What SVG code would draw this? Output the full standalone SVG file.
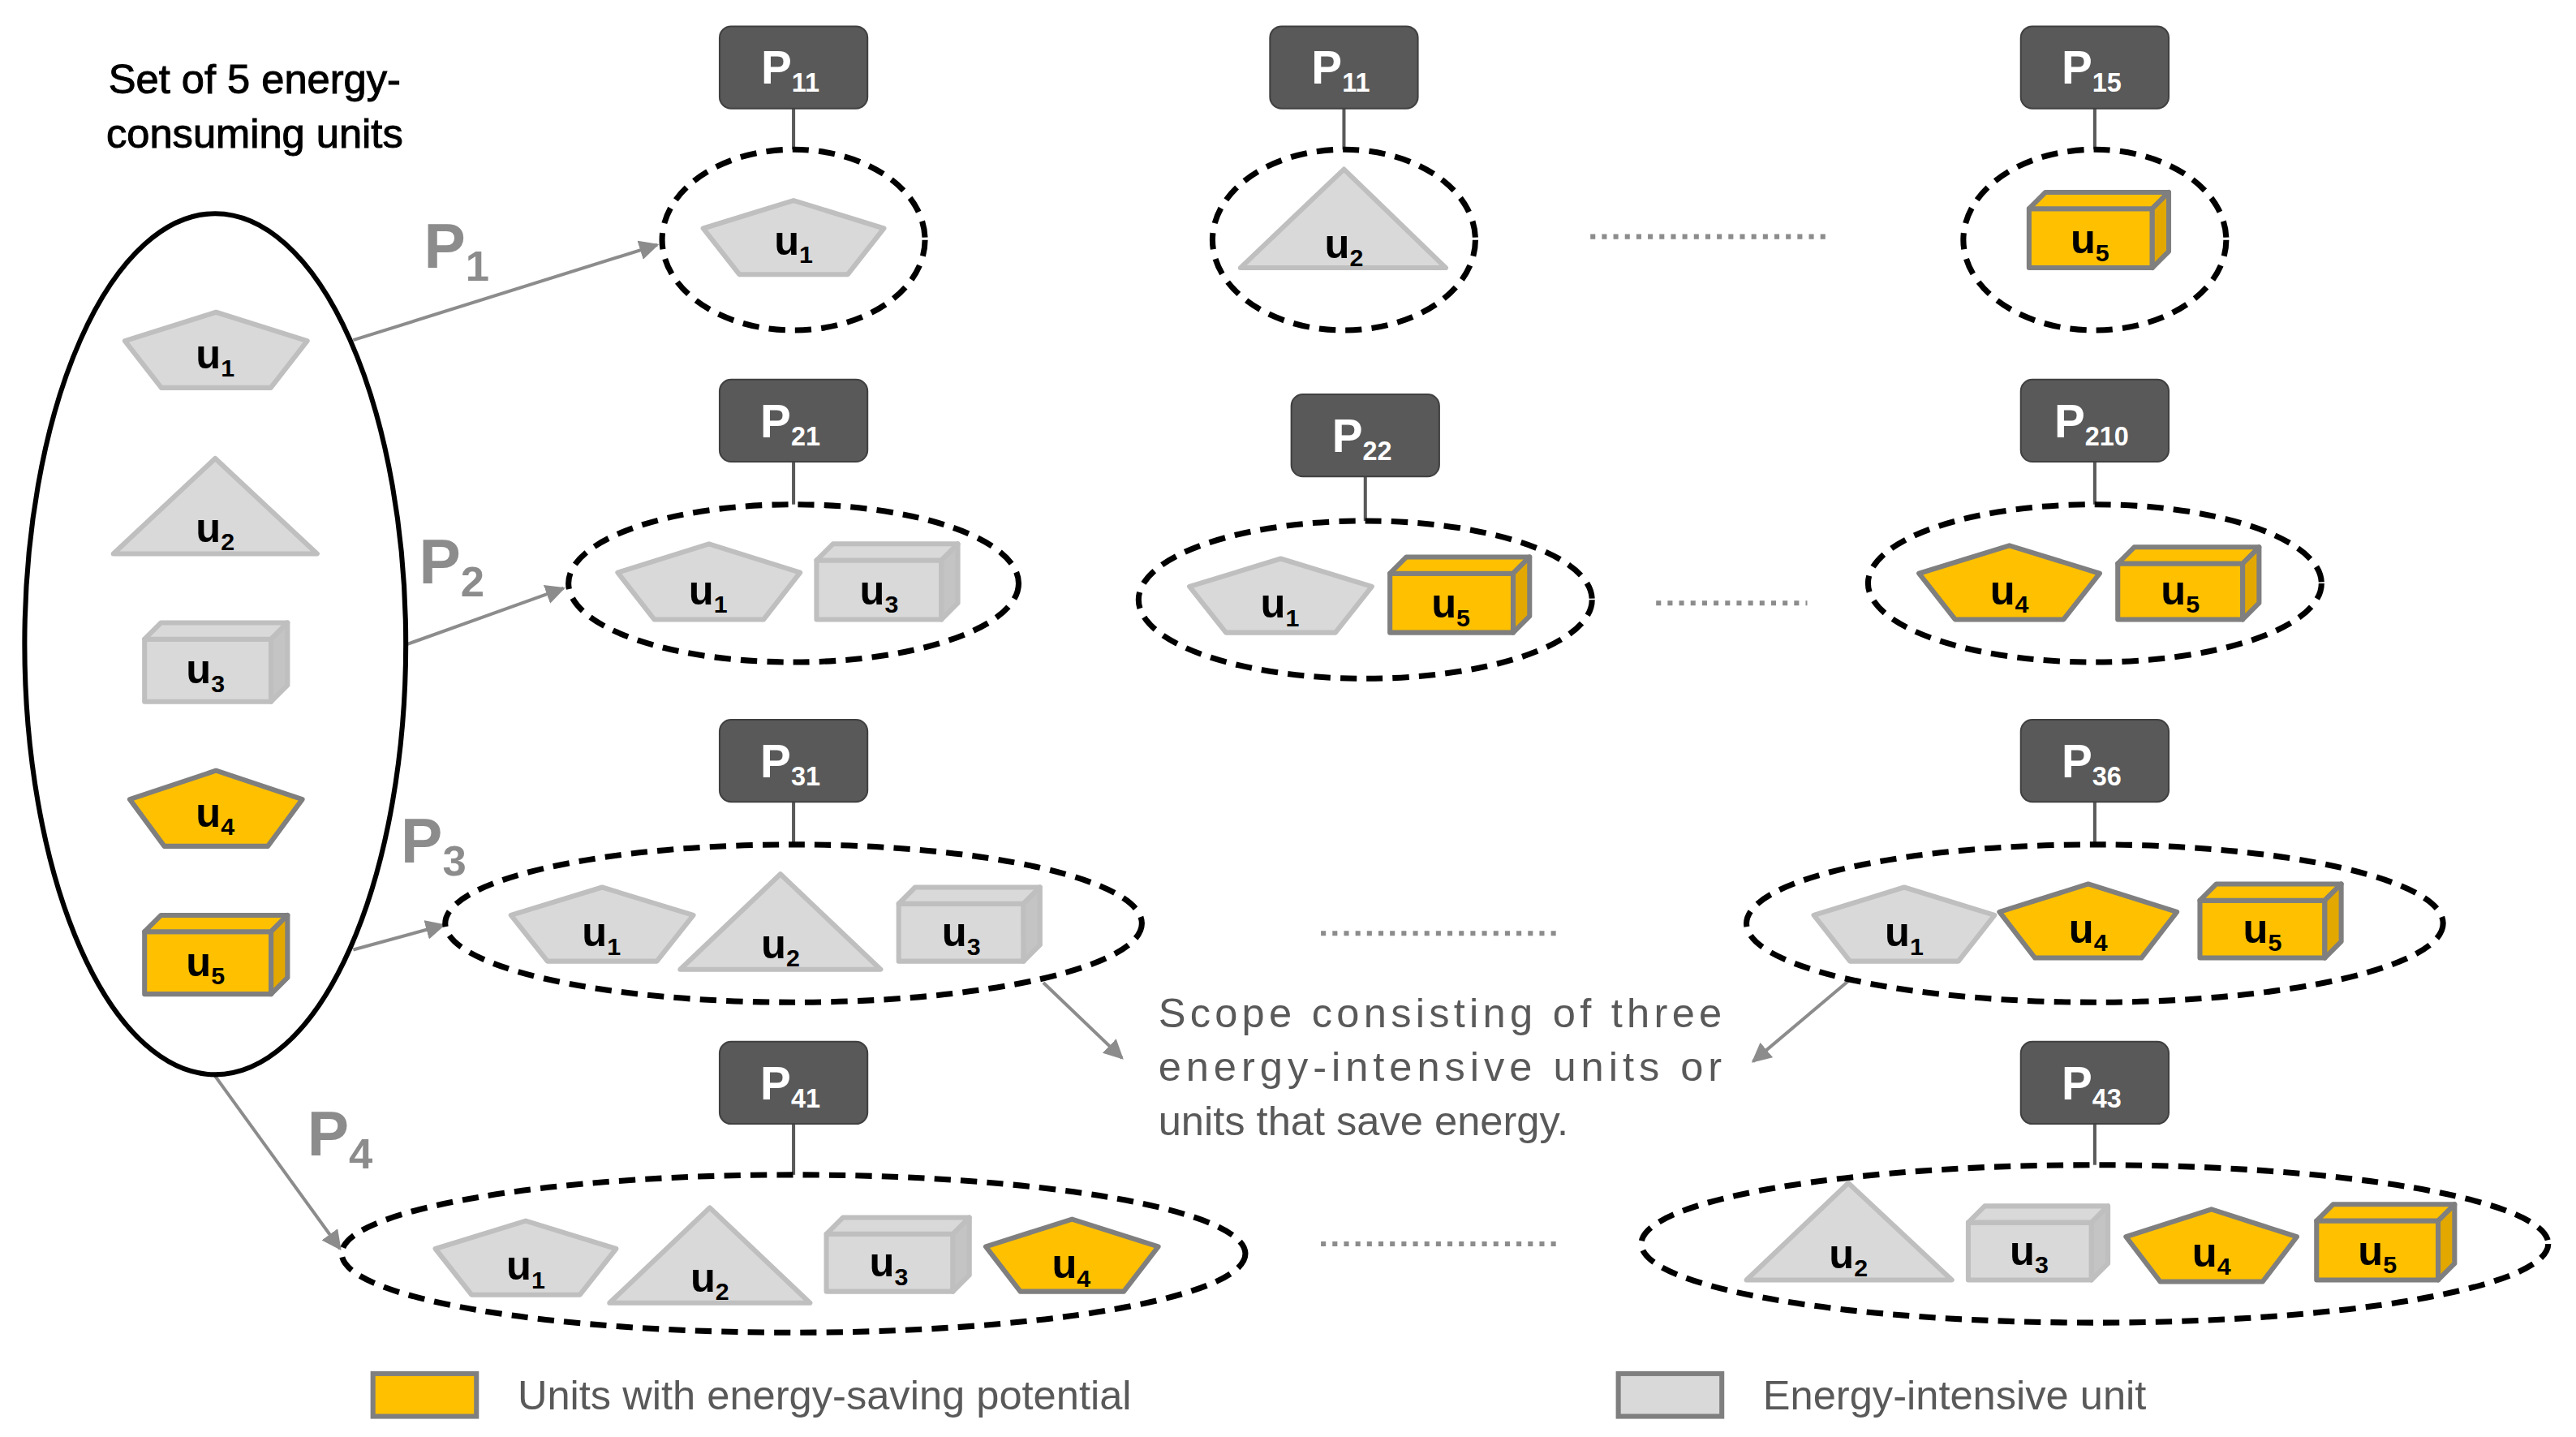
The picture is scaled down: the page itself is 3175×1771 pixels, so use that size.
<svg xmlns="http://www.w3.org/2000/svg" width="3175" height="1771" viewBox="0 0 3175 1771">
<style>
.g{fill:#d9d9d9;stroke:#bfbfbf;stroke-width:3;stroke-linejoin:round}
.gs{fill:#c4c4c4;stroke:#bfbfbf;stroke-width:3;stroke-linejoin:round}
.y{fill:#ffc000;stroke:#7f7f7f;stroke-width:3;stroke-linejoin:round}
.ys{fill:#e3a800;stroke:#7f7f7f;stroke-width:3;stroke-linejoin:round}
.u{font-family:"Liberation Sans Narrow","Liberation Sans",Arial,sans-serif;font-weight:bold;font-size:25px;fill:#000;text-anchor:middle}
.s{font-size:15px}
.pb{fill:#595959;stroke:#404040;stroke-width:1}
.pt{font-family:"Liberation Sans Narrow","Liberation Sans",Arial,sans-serif;font-weight:bold;font-size:28px;fill:#fff;text-anchor:middle}
.ps{font-size:16px}
.el{fill:none;stroke:#000;stroke-width:3.5;stroke-dasharray:10 6}
.st{stroke:#595959;stroke-width:2}
.ar{stroke:#8c8c8c;stroke-width:2;fill:none;marker-end:url(#ah)}
.dot{stroke:#8c8c8c;stroke-width:3;stroke-dasharray:3 4}
.pl{font-family:"Liberation Sans",Arial,sans-serif;font-weight:bold;font-size:38px;fill:#8c8c8c}
.pls{font-size:26px}
.tx{font-family:"Liberation Sans",Arial,sans-serif;font-size:24px;fill:#595959}
.ti{font-family:"Liberation Sans",Arial,sans-serif;font-size:25px;fill:#000;text-anchor:middle;stroke:#000;stroke-width:0.5}
</style>
<defs>
<marker id="ah" viewBox="0 0 10 10" refX="9" refY="5" markerWidth="6" markerHeight="6" orient="auto"><path d="M0,0 L10,5 L0,10 z" fill="#8c8c8c"/></marker>
</defs>
<g transform="scale(2.025)">
<g id="title"><text x="155" y="57" class="ti">Set of 5 energy-</text><text x="155" y="90" class="ti">consuming units</text></g>

<g id="connectors">
<line class="ar" x1="215" y1="207" x2="400" y2="149"/>
<line class="ar" x1="248" y1="392" x2="343" y2="358"/>
<line class="ar" x1="215" y1="578" x2="270" y2="563"/>
<line class="ar" x1="131" y1="655" x2="207" y2="760"/>
<line class="ar" x1="635" y1="598" x2="683" y2="644"/>
<line class="ar" x1="1125" y1="597" x2="1067" y2="646"/>
<line class="st" x1="483" y1="66" x2="483" y2="91"/>
<line class="st" x1="818" y1="66" x2="818" y2="91"/>
<line class="st" x1="1275" y1="66" x2="1275" y2="91"/>
<line class="st" x1="483" y1="281" x2="483" y2="307"/>
<line class="st" x1="831" y1="290" x2="831" y2="317"/>
<line class="st" x1="1275" y1="281" x2="1275" y2="307"/>
<line class="st" x1="483" y1="488" x2="483" y2="514"/>
<line class="st" x1="1275" y1="488" x2="1275" y2="514"/>
<line class="st" x1="483" y1="684" x2="483" y2="715"/>
<line class="st" x1="1275" y1="684" x2="1275" y2="709"/>
<line class="dot" x1="968" y1="144" x2="1115" y2="144"/>
<line class="dot" x1="1008" y1="367" x2="1100" y2="367"/>
<line class="dot" x1="804" y1="568" x2="950" y2="568"/>
<line class="dot" x1="804" y1="757" x2="950" y2="757"/>
</g>

<g id="plabels">
<text class="pl" x="258" y="163">P<tspan class="pls" dy="8">1</tspan></text>
<text class="pl" x="255" y="355">P<tspan class="pls" dy="8">2</tspan></text>
<text class="pl" x="244" y="525">P<tspan class="pls" dy="8">3</tspan></text>
<text class="pl" x="187" y="703">P<tspan class="pls" dy="8">4</tspan></text>
</g>

<g id="set">
<ellipse cx="131" cy="392" rx="116" ry="262" fill="none" stroke="#000" stroke-width="3"/>
<polygon class="g" points="131.5,190 187,207.5 164.8,236 98.2,236 76,207.5"/><text class="u" x="131" y="224">u<tspan class="s" dy="5">1</tspan></text>
<polygon class="g" points="131,279 193,337 69,337"/><text class="u" x="131" y="330">u<tspan class="s" dy="5">2</tspan></text>
<rect class="g" x="88" y="389" width="77" height="38"/><polygon class="g" points="88,389 98,379 175,379 165,389"/><polygon class="gs" points="165,389 175,379 175,417 165,427"/><text class="u" x="125" y="416">u<tspan class="s" dy="5">3</tspan></text>
<polygon class="y" points="131.5,469 184,486.5 163,515 100,515 79,486.5"/><text class="u" x="131" y="503">u<tspan class="s" dy="5">4</tspan></text>
<rect class="y" x="88" y="567" width="77" height="38"/><polygon class="y" points="88,567 98,557 175,557 165,567"/><polygon class="ys" points="165,567 175,557 175,595 165,605"/><text class="u" x="125" y="594">u<tspan class="s" dy="5">5</tspan></text>
</g>

<g id="P11a"><rect class="pb" x="438" y="16" width="90" height="50" rx="7"/><text class="pt" x="481" y="51">P<tspan class="ps" dy="5">11</tspan></text>
<ellipse class="el" cx="483" cy="146" rx="80" ry="55"/>
<polygon class="g" points="483,122 538,139 516,167 450,167 428,139"/><text class="u" x="483" y="155">u<tspan class="s" dy="5">1</tspan></text></g>

<g id="P11b"><rect class="pb" x="773" y="16" width="90" height="50" rx="7"/><text class="pt" x="816" y="51">P<tspan class="ps" dy="5">11</tspan></text>
<ellipse class="el" cx="818" cy="146" rx="80" ry="55"/>
<polygon class="g" points="818,103 880,163 755,163"/><text class="u" x="818" y="157">u<tspan class="s" dy="5">2</tspan></text></g>

<g id="P15"><rect class="pb" x="1230" y="16" width="90" height="50" rx="7"/><text class="pt" x="1273" y="51">P<tspan class="ps" dy="5">15</tspan></text>
<ellipse class="el" cx="1275" cy="146" rx="80" ry="55"/>
<rect class="y" x="1235" y="127" width="75" height="36"/><polygon class="y" points="1235,127 1245,117 1320,117 1310,127"/><polygon class="ys" points="1310,127 1320,117 1320,153 1310,163"/><text class="u" x="1272" y="154">u<tspan class="s" dy="5">5</tspan></text></g>

<g id="P21"><rect class="pb" x="438" y="231" width="90" height="50" rx="7"/><text class="pt" x="481" y="266">P<tspan class="ps" dy="5">21</tspan></text>
<ellipse class="el" cx="483" cy="355" rx="137" ry="48"/>
<polygon class="g" points="431.5,331 487,348.5 464.8,377 398.2,377 376,348.5"/><text class="u" x="431" y="368">u<tspan class="s" dy="5">1</tspan></text>
<rect class="g" x="497" y="341" width="76" height="36"/><polygon class="g" points="497,341 507,331 583,331 573,341"/><polygon class="gs" points="573,341 583,331 583,367 573,377"/><text class="u" x="535" y="368">u<tspan class="s" dy="5">3</tspan></text></g>

<g id="P22"><rect class="pb" x="786" y="240" width="90" height="50" rx="7"/><text class="pt" x="829" y="275">P<tspan class="ps" dy="5">22</tspan></text>
<ellipse class="el" cx="831" cy="365" rx="138" ry="48"/>
<polygon class="g" points="779.5,340 835,357 812.8,385 746.2,385 724,357"/><text class="u" x="779" y="376">u<tspan class="s" dy="5">1</tspan></text>
<rect class="y" x="846" y="349" width="75" height="36"/><polygon class="y" points="846,349 856,339 931,339 921,349"/><polygon class="ys" points="921,349 931,339 931,375 921,385"/><text class="u" x="883" y="376">u<tspan class="s" dy="5">5</tspan></text></g>

<g id="P210"><rect class="pb" x="1230" y="231" width="90" height="50" rx="7"/><text class="pt" x="1273" y="266">P<tspan class="ps" dy="5">210</tspan></text>
<ellipse class="el" cx="1275" cy="355" rx="138" ry="48"/>
<polygon class="y" points="1223,332 1278,349 1256,377 1190,377 1168,349"/><text class="u" x="1223" y="368">u<tspan class="s" dy="5">4</tspan></text>
<rect class="y" x="1289" y="343" width="76" height="34"/><polygon class="y" points="1289,343 1299,333 1375,333 1365,343"/><polygon class="ys" points="1365,343 1375,333 1375,367 1365,377"/><text class="u" x="1327" y="368">u<tspan class="s" dy="5">5</tspan></text></g>

<g id="P31"><rect class="pb" x="438" y="438" width="90" height="50" rx="7"/><text class="pt" x="481" y="473">P<tspan class="ps" dy="5">31</tspan></text>
<ellipse class="el" cx="483" cy="562" rx="212" ry="48"/>
<polygon class="g" points="366.5,540 422,557 399.8,585 333.2,585 311,557"/><text class="u" x="366" y="576">u<tspan class="s" dy="5">1</tspan></text>
<polygon class="g" points="475,532 536,590 414,590"/><text class="u" x="475" y="583">u<tspan class="s" dy="5">2</tspan></text>
<rect class="g" x="547" y="550" width="76" height="35"/><polygon class="g" points="547,550 557,540 633,540 623,550"/><polygon class="gs" points="623,550 633,540 633,575 623,585"/><text class="u" x="585" y="576">u<tspan class="s" dy="5">3</tspan></text></g>

<g id="P36"><rect class="pb" x="1230" y="438" width="90" height="50" rx="7"/><text class="pt" x="1273" y="473">P<tspan class="ps" dy="5">36</tspan></text>
<ellipse class="el" cx="1275" cy="562" rx="212" ry="48"/>
<polygon class="g" points="1159,540 1214,557 1192,585 1126,585 1104,557"/><text class="u" x="1159" y="576">u<tspan class="s" dy="5">1</tspan></text>
<polygon class="y" points="1271,538 1325,555 1303.4,583 1238.6,583 1217,555"/><text class="u" x="1271" y="574">u<tspan class="s" dy="5">4</tspan></text>
<rect class="y" x="1339" y="548" width="76" height="35"/><polygon class="y" points="1339,548 1349,538 1425,538 1415,548"/><polygon class="ys" points="1415,548 1425,538 1425,573 1415,583"/><text class="u" x="1377" y="574">u<tspan class="s" dy="5">5</tspan></text></g>

<g id="note">
<text class="tx" x="705" y="625" textLength="343" lengthAdjust="spacing" style="font-size:25px">Scope consisting of three</text>
<text class="tx" x="705" y="658" textLength="343" lengthAdjust="spacing" style="font-size:25px">energy-intensive units or</text>
<text class="tx" x="705" y="691" style="font-size:25px">units that save energy.</text>
</g>

<g id="P41"><rect class="pb" x="438" y="634" width="90" height="50" rx="7"/><text class="pt" x="481" y="669">P<tspan class="ps" dy="5">41</tspan></text>
<ellipse class="el" cx="483" cy="763" rx="275" ry="48"/>
<polygon class="g" points="320,743 375,760 353,788 287,788 265,760"/><text class="u" x="320" y="779">u<tspan class="s" dy="5">1</tspan></text>
<polygon class="g" points="432,735 493,793 371,793"/><text class="u" x="432" y="786">u<tspan class="s" dy="5">2</tspan></text>
<rect class="g" x="503" y="751" width="77" height="35"/><polygon class="g" points="503,751 513,741 590,741 580,751"/><polygon class="gs" points="580,751 590,741 590,776 580,786"/><text class="u" x="541" y="777">u<tspan class="s" dy="5">3</tspan></text>
<polygon class="y" points="652.5,742 705,758.7 684,786 621,786 600,758.7"/><text class="u" x="652" y="778">u<tspan class="s" dy="5">4</tspan></text></g>

<g id="P43"><rect class="pb" x="1230" y="634" width="90" height="50" rx="7"/><text class="pt" x="1273" y="669">P<tspan class="ps" dy="5">43</tspan></text>
<ellipse class="el" cx="1275" cy="757" rx="276" ry="48"/>
<polygon class="g" points="1125,720 1188,779 1063,779"/><text class="u" x="1125" y="772">u<tspan class="s" dy="5">2</tspan></text>
<rect class="g" x="1198" y="744" width="75" height="35"/><polygon class="g" points="1198,744 1208,734 1283,734 1273,744"/><polygon class="gs" points="1273,744 1283,734 1283,769 1273,779"/><text class="u" x="1235" y="770">u<tspan class="s" dy="5">3</tspan></text>
<polygon class="y" points="1346,736 1398,752.7 1377.2,780 1314.8,780 1294,752.7"/><text class="u" x="1346" y="771">u<tspan class="s" dy="5">4</tspan></text>
<rect class="y" x="1410" y="743" width="74" height="36"/><polygon class="y" points="1410,743 1420,733 1494,733 1484,743"/><polygon class="ys" points="1484,743 1494,733 1494,769 1484,779"/><text class="u" x="1447" y="770">u<tspan class="s" dy="5">5</tspan></text></g>

<g id="legend">
<rect x="227" y="836" width="63" height="26" fill="#ffc000" stroke="#7f7f7f" stroke-width="3"/>
<text class="tx" x="315" y="858" style="font-size:25px">Units with energy-saving potential</text>
<rect x="985" y="836" width="63" height="26" fill="#d9d9d9" stroke="#7f7f7f" stroke-width="3"/>
<text class="tx" x="1073" y="858" style="font-size:25px">Energy-intensive unit</text>
</g>
</g>
</svg>
